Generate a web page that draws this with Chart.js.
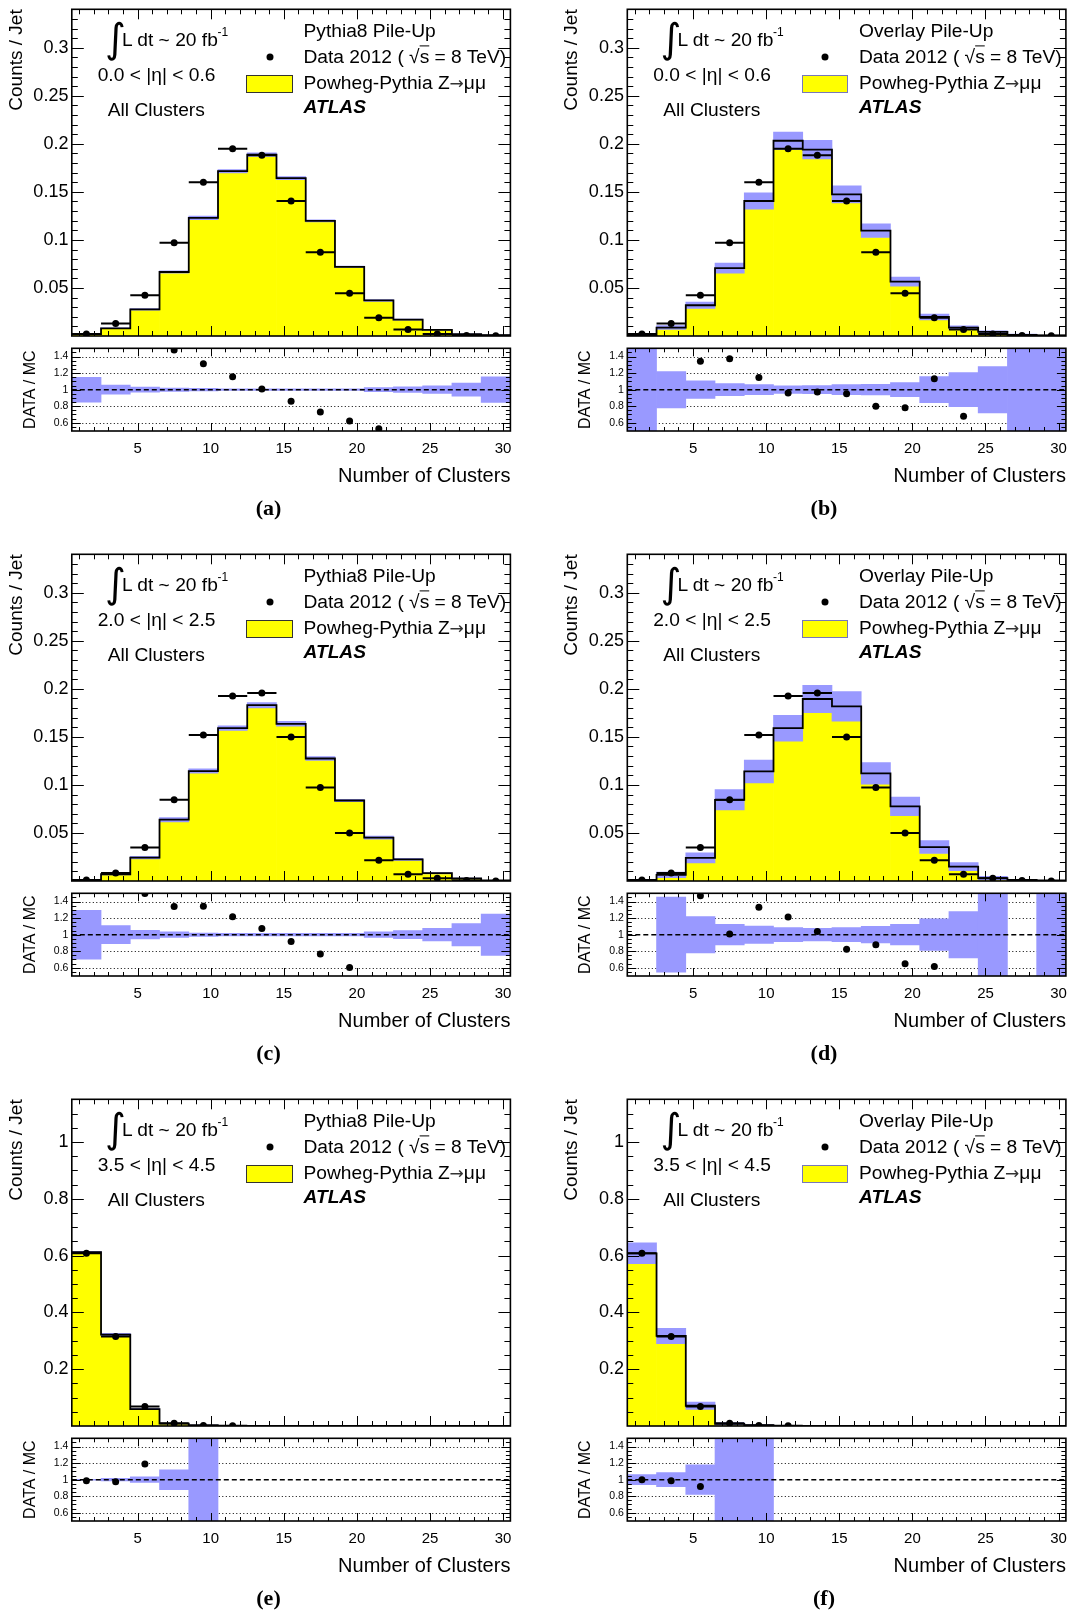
<!DOCTYPE html>
<html>
<head>
<meta charset="utf-8">
<script src="https://cdn.jsdelivr.net/npm/chart.js@4.4.0/dist/chart.umd.min.js"></script>
<style>
html, body { margin: 0; padding: 0; background: #fff; }
#page { position: relative; width: 1073px; height: 1610px; overflow: hidden; background: #fff;
        font-family: 'Liberation Sans', Arial, sans-serif; color: #000; }
canvas { position: absolute; }
.t { position: absolute; white-space: nowrap; line-height: 1; transform: translateY(-50%); font-size: 19.2px; z-index: 5; }
.atlas { font-weight: bold; font-style: italic; }
.sup { font-size: 12px; }
.arrow { font-family: 'DejaVu Sans', sans-serif; font-size: 17px; color: #333; }
.integral { font-family: 'DejaVu Sans', sans-serif; font-size: 40px; transform: translate(-50%, -50%); }
.cap { font-family: 'Liberation Serif', 'Times New Roman', serif; font-weight: bold; font-size: 22px; transform: translate(-50%, -50%); }
.mk { position: absolute; width: 7px; height: 7px; border-radius: 50%; background: #000; transform: translate(-50%, -50%); z-index: 5; }
.box { position: absolute; background: #ffff00; box-sizing: border-box; z-index: 5; }
</style>
</head>
<body>
<div id="page"></div>
<script>
// ---------------- data ----------------
const binEdges   = [0.5, 2.5, 4.5, 6.5, 8.5, 10.5, 12.5, 14.5, 16.5, 18.5, 20.5, 22.5, 24.5, 26.5, 28.5, 30.5];
const binCenters = [1.5, 3.5, 5.5, 7.5, 9.5, 11.5, 13.5, 15.5, 17.5, 19.5, 21.5, 23.5, 25.5, 27.5, 29.5];

const panelLabels  = ['(a)', '(b)', '(c)', '(d)', '(e)', '(f)'];
const etaLabels    = ['0.0 < |η| < 0.6', '2.0 < |η| < 2.5', '3.5 < |η| < 4.5'];
const pileUpLabels = ['Pythia8 Pile-Up', 'Overlay Pile-Up'];

// x axis (Number of Clusters)
const xTickValues = [5, 10, 15, 20, 25, 30];
const xTickLabels = ['5', '10', '15', '20', '25', '30'];
// main y axis
const yAxisMax = [0.34, 0.34, 1.15];
const yTickValuesCentral = [0.05, 0.1, 0.15, 0.2, 0.25, 0.3];
const yTickLabelsCentral = ['0.05', '0.1', '0.15', '0.2', '0.25', '0.3'];
const yTickValuesForward = [0.2, 0.4, 0.6, 0.8, 1];
const yTickLabelsForward = ['0.2', '0.4', '0.6', '0.8', '1'];
// ratio y axis
const ratioTickValues = [0.6, 0.8, 1, 1.2, 1.4];
const ratioTickLabels = ['0.6', '0.8', '1', '1.2', '1.4'];
const ratioGridValues = [0.6, 0.8, 1.2, 1.4];

// Data 2012 (same data in both columns of a row)
const dataEta06 = [0.002, 0.013, 0.0425, 0.097, 0.160, 0.195, 0.188, 0.1405, 0.0872, 0.0446, 0.0191, 0.0067, 0.002, 0.0005, 0.0002];
const dataEta25 = [0.001, 0.0084, 0.0349, 0.0845, 0.1519, 0.1925, 0.1956, 0.1498, 0.0972, 0.05, 0.0215, 0.007, 0.0029, 0.0005, 0.0];
const dataEta45 = [0.608, 0.3148, 0.069, 0.01, 0.002, 0.0005, null, null, null, null, null, null, null, null, null];

// Powheg-Pythia MC
const mcA = [0.002, 0.008, 0.0277, 0.0666, 0.123, 0.1715, 0.1887, 0.1643, 0.1198, 0.072, 0.037, 0.017, 0.0064, 0.002, 0.001];
const mcB = [0.001, 0.0088, 0.032, 0.0707, 0.1405, 0.2032, 0.194, 0.1474, 0.1096, 0.0566, 0.0198, 0.0088, 0.0043, 0.0012, 0.0005];
const mcC = [0.001, 0.007, 0.0243, 0.0638, 0.1144, 0.159, 0.183, 0.1636, 0.1275, 0.0838, 0.0452, 0.0225, 0.0081, 0.0026, 0.0005];
const mcD = [0.001, 0.0064, 0.024, 0.0845, 0.114, 0.159, 0.1894, 0.1818, 0.112, 0.0776, 0.0353, 0.015, 0.003, 0.0012, 0.0005];
const mcE = [0.6116, 0.3217, 0.0597, 0.0087, 0.002, 0.0005, 0, 0, 0, 0, 0, 0, 0, 0, 0];
const mcF = [0.608, 0.317, 0.0713, 0.0075, 0.003, 0.0005, 0, 0, 0, 0, 0, 0, 0, 0, 0];

// relative MC uncertainty (half width of the band)
const relA = [0.15, 0.055, 0.03, 0.02, 0.015, 0.01, 0.01, 0.01, 0.01, 0.01, 0.025, 0.035, 0.045, 0.08, 0.155];
const relB = [0.6, 0.22, 0.107, 0.074, 0.06, 0.045, 0.05, 0.06, 0.065, 0.085, 0.157, 0.205, 0.28, 0.6, 0.6];
const relC = [0.295, 0.11, 0.053, 0.035, 0.02, 0.015, 0.015, 0.015, 0.015, 0.015, 0.035, 0.05, 0.075, 0.135, 0.25];
const relD = [null, 0.455, 0.22, 0.125, 0.105, 0.085, 0.075, 0.085, 0.1, 0.125, 0.19, 0.28, 0.6, null, 0.6];
const relE = [0.005, 0.015, 0.035, 0.12, 0.6, null, null, null, null, null, null, null, null, null, null];
const relF = [0.06, 0.085, 0.18, 0.6, 0.6, null, null, null, null, null, null, null, null, null, null];

// DATA / MC points visible in the ratio panels
const ratioA = [null, null, null, 1.478, 1.314, 1.155, 1.008, 0.861, 0.731, 0.620, 0.527, null, null, null, null];
const ratioB = [null, null, 1.343, 1.375, 1.147, 0.959, 0.971, 0.951, 0.80, 0.78, 1.131, 0.678, null, null, null];
const ratioC = [null, null, 1.498, 1.339, 1.343, 1.216, 1.073, 0.918, 0.767, 0.604, null, null, null, null, null];
const ratioD = [null, null, 1.47, 1.008, 1.331, 1.212, 1.037, 0.824, 0.878, 0.649, 0.616, null, null, null, null];
const ratioE = [0.988, 0.976, 1.188, null, null, null, null, null, null, null, null, null, null, null, null];
const ratioF = [1.0, 0.988, 0.918, null, null, null, null, null, null, null, null, null, null, null, null];

// ---------------- layout / style ----------------
const YELLOW = '#ffff00';
const BAND = '#9999ff';
const COLS = [
  { canvasLeft: 0,   width: 536, axisW: 71.8, padR: 25.6, caption: 268.5 },
  { canvasLeft: 555, width: 518, axisW: 72.3, padR: 7.1,  caption: 824 }
];
const ROW_TOP = [0, 545, 1090];

Chart.defaults.font.family = "'Liberation Sans', Arial, sans-serif";
Chart.defaults.color = '#000';

const rootFrame = {
  id: 'rootFrame',
  beforeDatasetsDraw(chart) {
    const o = chart.canvas.frameCfg;
    if (!o || !o.grid) return;
    const ctx = chart.ctx, a = chart.chartArea, ys = chart.scales.y;
    ctx.save();
    ctx.strokeStyle = '#000'; ctx.lineWidth = 1; ctx.setLineDash([1, 2.5]);
    o.grid.forEach(v => {
      const py = Math.round(ys.getPixelForValue(v)) + 0.5;
      ctx.beginPath(); ctx.moveTo(a.left, py); ctx.lineTo(a.right, py); ctx.stroke();
    });
    ctx.restore();
  },
  afterDatasetsDraw(chart) {
    const o = chart.canvas.frameCfg;
    if (!o) return;
    const ctx = chart.ctx, a = chart.chartArea, xs = chart.scales.x, ys = chart.scales.y;
    ctx.save();
    ctx.strokeStyle = '#000'; ctx.setLineDash([]); ctx.lineWidth = 1;
    ctx.beginPath();
    for (let k = Math.ceil(xs.min / o.xMinor - 1e-6); k * o.xMinor < xs.max - 1e-6; k++) {
      const v = k * o.xMinor;
      if (v <= xs.min + 1e-6) continue;
      const len = (k % o.xPerMajor === 0) ? o.xMajorLen : o.xMinorLen;
      const px = Math.round(xs.getPixelForValue(v)) + 0.5;
      ctx.moveTo(px, a.bottom); ctx.lineTo(px, a.bottom - len);
      ctx.moveTo(px, a.top); ctx.lineTo(px, a.top + len);
    }
    for (let k = Math.ceil(ys.min / o.yMinor - 1e-6); k * o.yMinor < ys.max - 1e-6; k++) {
      const v = k * o.yMinor;
      if (v <= ys.min + 1e-6) continue;
      const len = (k % o.yPerMajor === 0) ? o.yMajorLen : o.yMinorLen;
      const py = Math.round(ys.getPixelForValue(v)) + 0.5;
      ctx.moveTo(a.left, py); ctx.lineTo(a.left + len, py);
      ctx.moveTo(a.right, py); ctx.lineTo(a.right - len, py);
    }
    ctx.stroke();
    ctx.lineWidth = 1.6;
    ctx.strokeRect(a.left, a.top, a.right - a.left, a.bottom - a.top);
    ctx.restore();
  }
};
Chart.register(rootFrame);

const page = document.getElementById('page');

function makeCanvas(left, top, w, h) {
  const c = document.createElement('canvas');
  c.width = w; c.height = h;
  c.style.left = left + 'px'; c.style.top = top + 'px';
  c.style.width = w + 'px'; c.style.height = h + 'px';
  page.appendChild(c);
  return c;
}

function baseOptions(padding) {
  return {
    responsive: false, animation: false, events: [], devicePixelRatio: 1,
    layout: { padding: padding },
    plugins: { legend: { display: false }, tooltip: { enabled: false }, colors: { enabled: false } }
  };
}

function mainChart(canvas, mc, rel, data, row, col) {
  const yellow = [], band = [], steps = [], pts = [], bars = [];
  // histogram outline: start at the first low edge, then one point at every high edge
  steps.push({ x: binEdges[0], y: mc[0] });
  binCenters.forEach((c, i) => {
    const r = rel[i];
    const low = r == null ? mc[i] : mc[i] * (1 - r);
    if (low > 0) yellow.push({ x: c, y: low });
    if (r != null && mc[i] > 0) band.push({ x: c, y: [mc[i] * (1 - r), mc[i] * (1 + r)] });
    steps.push({ x: binEdges[i + 1], y: mc[i] });
    if (data[i] != null) {
      pts.push({ x: c, y: data[i] });
      bars.push({ x: binEdges[i], y: data[i] }, { x: binEdges[i + 1], y: data[i] }, { x: binEdges[i + 1], y: null });
    }
  });

  const fwd = row === 2;
  const yVals = fwd ? yTickValuesForward : yTickValuesCentral;
  const yLabs = fwd ? yTickLabelsForward : yTickLabelsCentral;
  canvas.frameCfg = {
    xMinor: 1, xPerMajor: 5, xMajorLen: 10, xMinorLen: 5,
    yMinor: fwd ? 0.05 : 0.01, yPerMajor: fwd ? 4 : 5, yMajorLen: 12, yMinorLen: 6
  };
  const opts = baseOptions({ top: 9.3, right: col.padR, bottom: 1.5, left: 0 });
  opts.scales = {
    x: { type: 'linear', min: binEdges[0], max: binEdges[binEdges.length - 1], offset: false, bounds: 'data', display: false },
    y: {
      type: 'linear', position: 'left', min: 0, max: yAxisMax[row], bounds: 'data',
      afterBuildTicks: s => { s.ticks = yVals.map(v => ({ value: v })); },
      afterFit: s => { s.width = col.axisW; s.paddingTop = 0; s.paddingBottom = 0; },
      grid: { display: false, drawTicks: false }, border: { display: false },
      ticks: { padding: 3.4, font: { size: 18 }, color: '#000', autoSkip: false, maxRotation: 0,
               callback: (v, i) => yLabs[i] },
      title: { display: true, text: 'Counts / Jet', align: 'end', font: { size: 19 }, color: '#000',
               padding: { top: 5.5, bottom: 0 } }
    }
  };
  return new Chart(canvas, {
    type: 'line',
    data: { datasets: [
      { type: 'scatter', data: pts, pointRadius: 3.5, pointBackgroundColor: '#000', backgroundColor: '#000',
        borderColor: '#000', pointBorderWidth: 0, order: 0 },
      { type: 'line', data: bars, borderColor: '#000', borderWidth: 2, pointRadius: 0, spanGaps: false, fill: false, order: 1 },
      { type: 'line', data: steps, stepped: 'after', borderColor: '#000', borderWidth: 1.8, pointRadius: 0, fill: false, order: 2 },
      { type: 'bar', data: band, backgroundColor: BAND, borderWidth: 0, barPercentage: 1, categoryPercentage: 1,
        grouped: false, clip: 0, order: 3 },
      { type: 'bar', data: yellow, backgroundColor: YELLOW, borderWidth: 0, barPercentage: 1, categoryPercentage: 1,
        grouped: false, clip: 0, order: 4 }
    ] },
    options: opts
  });
}

function ratioChart(canvas, rel, ratio, col) {
  const band = [], pts = [];
  binCenters.forEach((c, i) => {
    if (rel[i] != null) band.push({ x: c, y: [1 - rel[i], 1 + rel[i]] });
    if (ratio[i] != null) pts.push({ x: c, y: ratio[i] });
  });
  canvas.frameCfg = {
    xMinor: 1, xPerMajor: 5, xMajorLen: 8, xMinorLen: 4,
    yMinor: 0.05, yPerMajor: 4, yMajorLen: 9, yMinorLen: 4.5,
    grid: ratioGridValues
  };
  const opts = baseOptions({ top: 8.3, right: col.padR, bottom: 39, left: 0 });
  opts.scales = {
    x: {
      type: 'linear', position: 'bottom', min: binEdges[0], max: binEdges[binEdges.length - 1], offset: false, bounds: 'data',
      afterBuildTicks: s => { s.ticks = xTickValues.map(v => ({ value: v })); },
      afterFit: s => { s.height = 60; s.paddingLeft = 0; s.paddingRight = 0; },
      grid: { display: false, drawTicks: false }, border: { display: false },
      ticks: { padding: 8.6, font: { size: 15 }, color: '#000', autoSkip: false, maxRotation: 0, minRotation: 0,
               callback: (v, i) => xTickLabels[i] },
      title: { display: true, text: 'Number of Clusters', align: 'end', font: { size: 20 }, color: '#000',
               padding: { top: 0, bottom: 2.4 } }
    },
    y: {
      type: 'linear', position: 'left', min: 0.5, max: 1.5, bounds: 'data',
      afterBuildTicks: s => { s.ticks = ratioTickValues.map(v => ({ value: v })); },
      afterFit: s => { s.width = col.axisW; s.paddingTop = 0; s.paddingBottom = 0; },
      grid: { display: false, drawTicks: false }, border: { display: false },
      ticks: { padding: 3.4, font: { size: 10.5 }, color: '#000', autoSkip: false, maxRotation: 0,
               callback: (v, i) => ratioTickLabels[i] },
      title: { display: true, text: 'DATA / MC', align: 'center', font: { size: 16 }, color: '#000',
               padding: { top: 20.8, bottom: 0 } }
    }
  };
  return new Chart(canvas, {
    type: 'line',
    data: { datasets: [
      { type: 'scatter', data: pts, pointRadius: 3.5, pointBackgroundColor: '#000', backgroundColor: '#000',
        borderColor: '#000', pointBorderWidth: 0, order: 0 },
      { type: 'line', data: [{ x: binEdges[0], y: 1 }, { x: binEdges[binEdges.length - 1], y: 1 }],
        borderColor: '#000', borderWidth: 1.5, borderDash: [5, 3], pointRadius: 0, fill: false, order: 1 },
      { type: 'bar', data: band, backgroundColor: BAND, borderWidth: 0, barPercentage: 1, categoryPercentage: 1,
        grouped: false, clip: 0, order: 2 }
    ] },
    options: opts
  });
}

function addEl(cls, html, x, y, extra) {
  const d = document.createElement('div');
  d.className = cls;
  d.innerHTML = html;
  d.style.left = x + 'px';
  d.style.top = y + 'px';
  if (extra) Object.assign(d.style, extra);
  page.appendChild(d);
  return d;
}

function annotate(row, colIdx, idx) {
  const col = COLS[colIdx];
  const PL = col.canvasLeft + col.axisW;
  const RT = ROW_TOP[row];
  addEl('t integral', '∫', PL + 43.5, RT + 37.5);
  addEl('t', 'L dt ~ 20 fb', PL + 50.2, RT + 40);
  addEl('t sup', '-1', PL + 145.8, RT + 31.7);
  addEl('t', etaLabels[row], PL + 25.9, RT + 75);
  addEl('t', 'All Clusters', PL + 36, RT + 110);
  addEl('t', pileUpLabels[colIdx], PL + 231.7, RT + 30.8);
  addEl('mk', '', PL + 197.7, RT + 57.3);
  addEl('t', 'Data 2012 ( √<span style="text-decoration: overline">s</span> = 8 TeV)', PL + 231.7, RT + 56.5);
  addEl('box', '', PL + 174.2, RT + 75, { width: '46.5px', height: '18px',
        border: '1px solid ' + (colIdx === 0 ? '#333' : '#7777bb') });
  addEl('t', 'Powheg-Pythia Z<span class="arrow">→</span>μμ', PL + 231.7, RT + 82.5);
  addEl('t atlas', 'ATLAS', PL + 231.7, RT + 107);
  addEl('t cap', panelLabels[idx], col.caption, RT + 507.5);
}

const panels = [
  { row: 0, col: 0, mc: mcA, rel: relA, data: dataEta06, ratio: ratioA },
  { row: 0, col: 1, mc: mcB, rel: relB, data: dataEta06, ratio: ratioB },
  { row: 1, col: 0, mc: mcC, rel: relC, data: dataEta25, ratio: ratioC },
  { row: 1, col: 1, mc: mcD, rel: relD, data: dataEta25, ratio: ratioD },
  { row: 2, col: 0, mc: mcE, rel: relE, data: dataEta45, ratio: ratioE },
  { row: 2, col: 1, mc: mcF, rel: relF, data: dataEta45, ratio: ratioF }
];

panels.forEach((p, idx) => {
  const col = COLS[p.col], rt = ROW_TOP[p.row];
  const mainCanvas = makeCanvas(col.canvasLeft, rt, col.width, 340);
  mainChart(mainCanvas, p.mc, p.rel, p.data, p.row, col);
  const ratioCanvas = makeCanvas(col.canvasLeft, rt + 340, col.width, 190);
  ratioChart(ratioCanvas, p.rel, p.ratio, col);
  annotate(p.row, p.col, idx);
});
</script>
</body>
</html>
